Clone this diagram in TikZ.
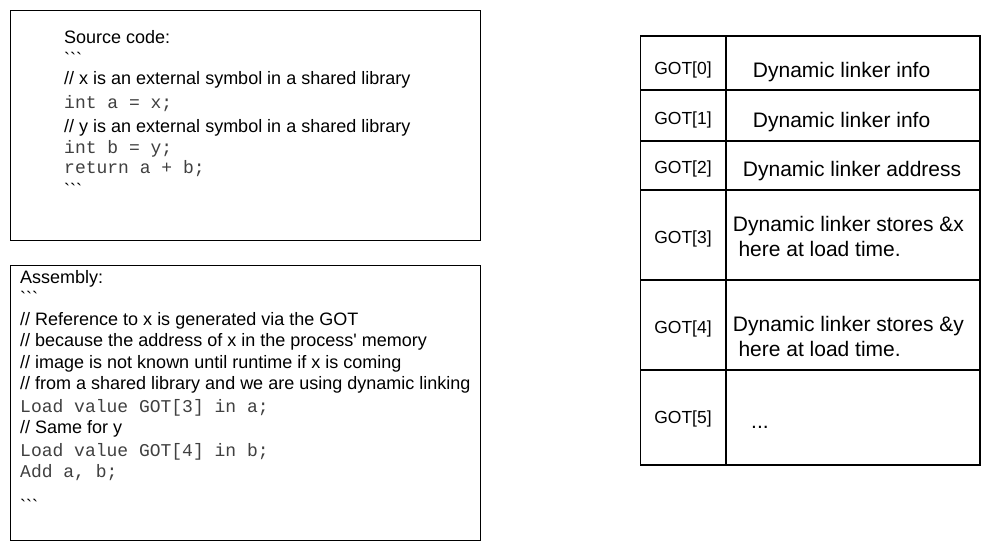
\documentclass[tikz,border=0pt]{standalone}
\usepackage{fontspec}
\newfontfamily\ar{Liberation Sans}
\newfontfamily\cour{Liberation Mono}
\begin{document}
\begin{tikzpicture}[x=1pt,y=-1pt,
  box/.style={draw=black,line width=1pt},
  tab/.style={draw=black,line width=1.2pt},
  sans/.style={anchor=base west,inner sep=0pt,font=\ar\fontsize{18}{21}\selectfont},
  mono/.style={anchor=base west,inner sep=0pt,text=black!75,font=\cour\fontsize{18}{21}\selectfont},
  gotl/.style={anchor=base,inner sep=0pt,font=\ar\fontsize{17.5}{20}\selectfont},
  gotv/.style={anchor=base west,inner sep=0pt,font=\ar\fontsize{21}{25}\selectfont}]
\useasboundingbox[fill=white] (0,0) rectangle (992,551);
% source box
\draw[box] (10.5,10.5) rectangle (480.5,240.5);
\node[sans] (s1) at (64,43.3) {Source code:};
\node[sans] (s2) at (64,65) {\symbol{96}\symbol{96}\symbol{96}};
\node[sans] (s3) at (64,84) {// x is an external symbol in a shared library};
\node[mono] (s4) at (64,108) {int a = x;};
\node[sans] (s5) at (64,132) {// y is an external symbol in a shared library};
\node[mono] (s6) at (64,153.8) {int b = y;};
\node[mono] (s7) at (64,173.5) {return a + b;};
\node[sans] (s8) at (64,196.5) {\symbol{96}\symbol{96}\symbol{96}};
% assembly box
\draw[box] (10.5,265.5) rectangle (480.5,540.5);
\node[sans] (a1) at (20,283.5) {Assembly:};
\node[sans] (a2) at (20,304) {\symbol{96}\symbol{96}\symbol{96}};
\node[sans] (a3) at (20,325.5) {// Reference to x is generated via the GOT};
\node[sans] (a4) at (20,346.5) {// because the address of x in the process' memory};
\node[sans] (a5) at (20,368) {// image is not known until runtime if x is coming};
\node[sans] (a6) at (20,389.7) {// from a shared library and we are using dynamic linking};
\node[mono] (a7) at (20,412.7) {Load value GOT[3] in a;};
\node[sans] (a8) at (20,433.7) {// Same for y};
\node[mono] (a9) at (20,456) {Load value GOT[4] in b;};
\node[mono] (a10) at (20,477) {Add a, b;};
\node[sans] (a11) at (20,512) {\symbol{96}\symbol{96}\symbol{96}};
% GOT table
\draw[tab] (640.5,36) rectangle (980,465);
\draw[tab] (726,36) -- (726,465);
\foreach \yy in {90,141,190,280,370} \draw[tab] (640.5,\yy) -- (980,\yy);
\node[gotl] (g0) at (683,74.3) {GOT[0]};
\node[gotl] (g1) at (683,124.3) {GOT[1]};
\node[gotl] (g2) at (683,173.3) {GOT[2]};
\node[gotl] (g3) at (683,243.3) {GOT[3]};
\node[gotl] (g4) at (683,333.3) {GOT[4]};
\node[gotl] (g5) at (683,423.3) {GOT[5]};
\node[gotv] (v0) at (752.7,77.7) {Dynamic linker info};
\node[gotv] (v1) at (752.7,127.7) {Dynamic linker info};
\node[gotv] (v2) at (742.7,176.7) {Dynamic linker address};
\node[gotv] (v3a) at (732.7,231.7) {Dynamic linker stores \&x};
\node[gotv] (v3b) at (738.3,256.7) {here at load time.};
\node[gotv] (v4a) at (732.7,331.7) {Dynamic linker stores \&y};
\node[gotv] (v4b) at (738.3,356.7) {here at load time.};
\node[gotv] (v5) at (751,428) {...};
\end{tikzpicture}
\end{document}
